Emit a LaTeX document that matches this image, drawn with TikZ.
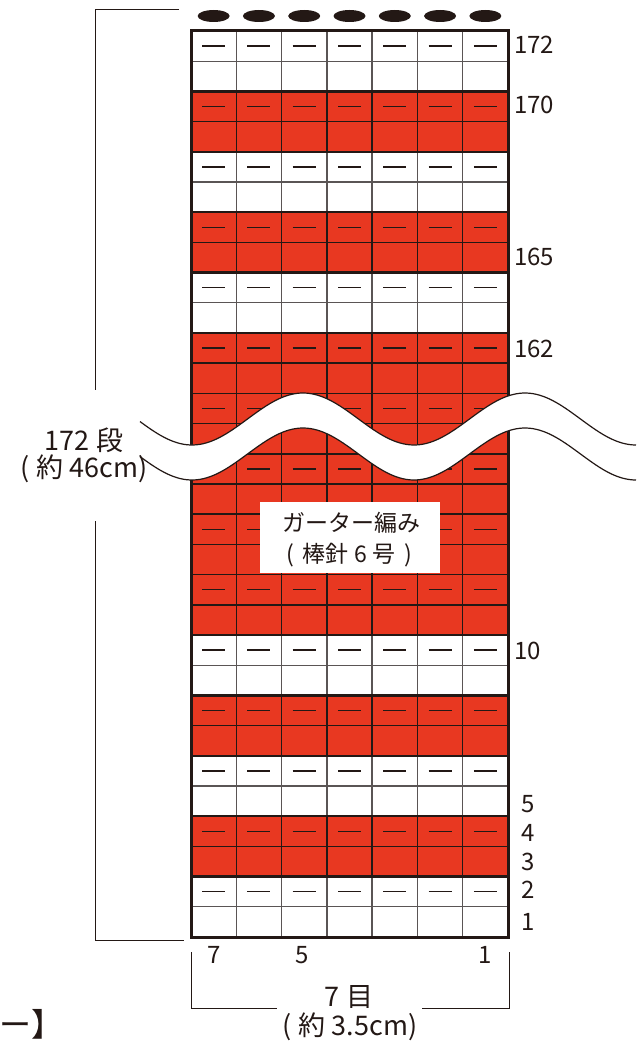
\documentclass[tikz,border=0pt]{standalone}
\usepackage{fontspec}
\setmainfont{Noto Sans CJK JP}
\definecolor{knitred}{RGB}{232,56,33}
\definecolor{ink}{RGB}{35,24,21}
\definecolor{greyline}{RGB}{90,85,85}
\begin{document}
\begin{tikzpicture}[x=1pt,y=-1pt,
  gridw/.style={draw=greyline,line width=1.3pt},
  gridr/.style={draw=ink,line width=1.5pt},
  gridb/.style={draw=ink,line width=2.4pt},
  knitdash/.style={draw=ink,line width=1.3pt},
  dimline/.style={draw=ink,line width=1pt},
  wavel/.style={draw=ink,line width=1.2pt},
  rowlbl/.style={font=\fontsize{24}{24}\selectfont,text=ink,inner sep=0pt,anchor=west},
  collbl/.style={font=\fontsize{24}{24}\selectfont,text=ink,inner sep=0pt},
  biglbl/.style={font=\fontsize{27}{27}\selectfont,text=ink,inner sep=0pt},
  midlbl/.style={font=\fontsize{23}{23}\selectfont,text=ink,inner sep=0pt}]
\useasboundingbox (0,0) rectangle (642,1041);
% red bands
\foreach \a/\b in {2/4,6/8,10/20,22/24,26/28}
  \fill[knitred] (191,{31+\a*30.2}) rectangle (508,{31+\b*30.2});
% vertical grid lines
\foreach \j in {1,...,6}{
  \foreach \a/\b in {0/2,4/6,8/10,20/22,24/26,28/30}
    \draw[gridw] ({191+\j*45.286},{31+\a*30.2}) -- ({191+\j*45.286},{31+\b*30.2});
  \foreach \a/\b in {2/4,6/8,10/20,22/24,26/28}
    \draw[gridr] ({191+\j*45.286},{31+\a*30.2}) -- ({191+\j*45.286},{31+\b*30.2});
}
% horizontal grid lines
\foreach \k in {1,5,9,21,25,29}
  \draw[gridw] (191,{31+\k*30.2}) -- (508,{31+\k*30.2});
\foreach \k in {3,7,11,12,13,14,15,16,17,18,19,23,27}
  \draw[gridr] (191,{31+\k*30.2}) -- (508,{31+\k*30.2});
\foreach \k in {2,4,6,8,10,20,22,24,26,28}
  \draw[gridb] (191,{31+\k*30.2}) -- (508,{31+\k*30.2});
% purl marks
\foreach \i in {0,2,...,28}
  \foreach \j in {0,...,6}
    \draw[knitdash] ({191+(\j+0.5)*45.286-11.5},{31+(\i+0.5)*30.2}) -- ++(23,0);
% border
\draw[ink,line width=3pt] (191,31) rectangle (508,937);
% bind-off ovals
\foreach \j in {0,...,6}
  \fill[ink] ({191+(\j+0.5)*45.286},16) ellipse [x radius=16pt, y radius=6pt];
% wave break
\fill[white] plot[domain=140:636,samples=150] (\x,{419-26*cos((\x-303)/222*360)})
  -- plot[domain=636:140,samples=150] (\x,{454-26*cos((\x-303)/222*360)}) -- cycle;
\draw[wavel] plot[domain=140:636,samples=150] (\x,{419-26*cos((\x-303)/222*360)});
\draw[wavel] plot[domain=140:636,samples=150] (\x,{454-26*cos((\x-303)/222*360)});
% centre label
\node[fill=white,minimum width=180pt,minimum height=71pt,inner sep=0pt] (box) at (350,537.5) {};
\node[midlbl] (st1) at (351,523) {ガーター編み};
\node[midlbl] (st2) at (349,555) {(\kern9pt 棒針 6 号\kern9pt)};
% row labels
\node[rowlbl] (r172) at (514,45) {172};
\node[rowlbl] (r170) at (514,105) {170};
\node[rowlbl] (r165) at (514,257) {165};
\node[rowlbl] (r162) at (514,349) {162};
\node[rowlbl] (r10) at (514,651) {10};
\node[rowlbl] (r5) at (521,804) {5};
\node[rowlbl] (r4) at (521,833) {4};
\node[rowlbl] (r3) at (521,862) {3};
\node[rowlbl] (r2) at (521,890) {2};
\node[rowlbl] (r1) at (521,922) {1};
% column labels
\node[collbl] (c7) at (214,955) {7};
\node[collbl] (c5) at (302,955) {5};
\node[collbl] (c1) at (485,955) {1};
% height dimension
\coordinate (ht) at (179,10);
\coordinate (htc) at (95,10);
\coordinate (hta) at (95,390);
\coordinate (hbb) at (95,521);
\coordinate (hbc) at (95,940);
\coordinate (hb) at (184,940);
\draw[dimline] (ht) -- (htc) -- (hta);
\draw[dimline] (hbb) -- (hbc) -- (hb);
\node[biglbl] (hl1) at (84,440) {172 段};
\node[biglbl] (hl2) at (84,469) {(\kern7pt 約 46cm)};
% width dimension
\coordinate (wl1) at (191,952);
\coordinate (wl2) at (191,1008);
\coordinate (wl3) at (277,1008);
\coordinate (wr1) at (509,952);
\coordinate (wr2) at (509,1008);
\coordinate (wr3) at (422,1008);
\draw[dimline] (wl1) -- (wl2) -- (wl3);
\draw[dimline] (wr1) -- (wr2) -- (wr3);
\node[biglbl] (wl) at (349,997) {7 目};
\node[biglbl] (wcm) at (350,1027) {(\kern7pt 約 3.5cm)};
% cut-off title
\node[font=\fontsize{32}{32}\selectfont,text=ink,inner sep=0pt,anchor=west] (ttl) at (-1,1024) {ー】};
\end{tikzpicture}
\end{document}
